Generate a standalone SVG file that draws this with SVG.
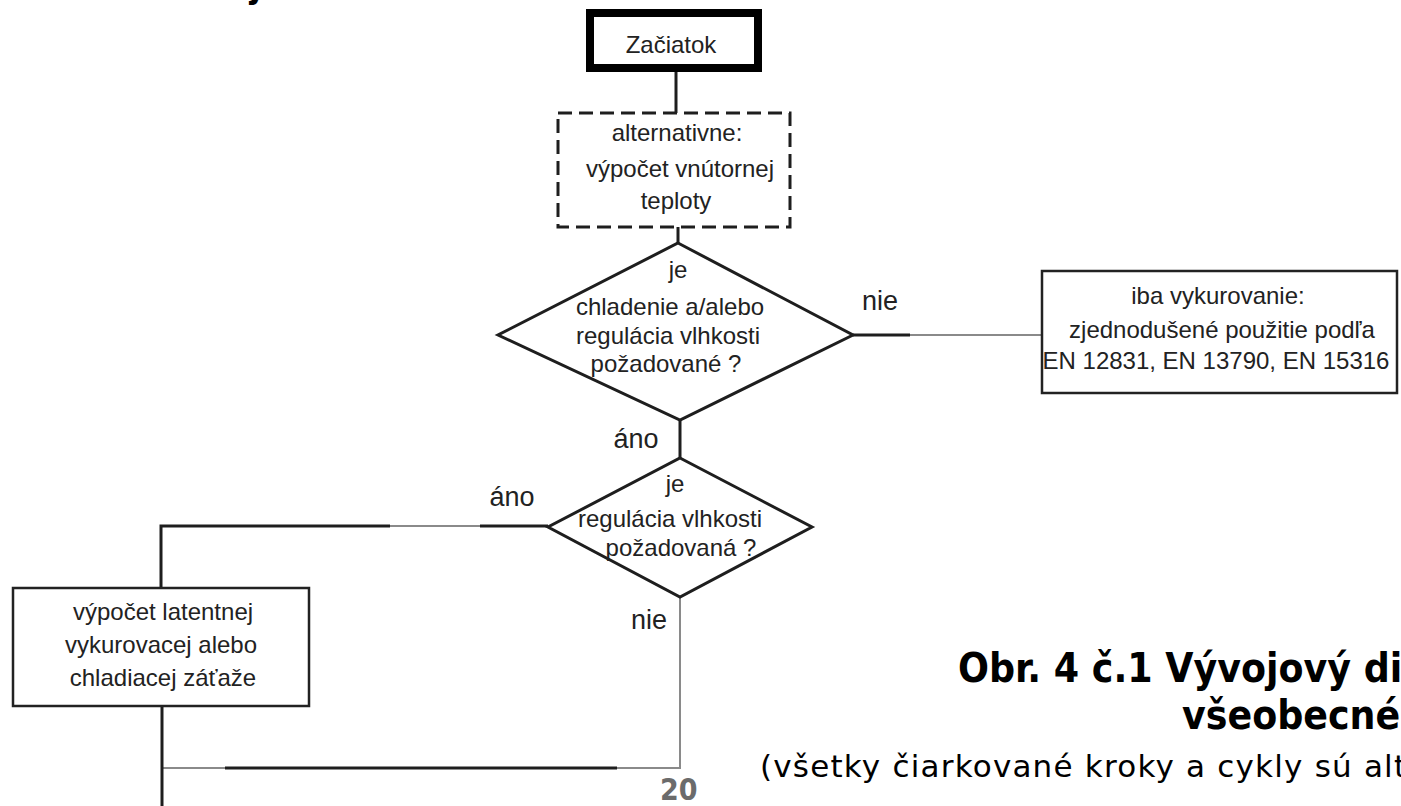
<svg xmlns="http://www.w3.org/2000/svg" width="1401" height="806" viewBox="0 0 1401 806">
<style>
.t{font-family:"Liberation Sans",Arial,sans-serif;font-size:24px;fill:#222;text-anchor:middle}
.lbl{font-family:"Liberation Sans",Arial,sans-serif;font-size:27px;fill:#222;text-anchor:middle}
.box{fill:#fff;stroke:#222;stroke-width:2.5}
.ln{fill:none;stroke:#1e1e1e;stroke-width:3}
.lg{fill:none;stroke:#8a8a8a;stroke-width:2}
.cap{font-family:"DejaVu Sans Condensed","DejaVu Sans",sans-serif;fill:#000}
.cap2{font-family:"DejaVu Sans",sans-serif;fill:#000}
</style>
<rect width="1401" height="806" fill="#fff"/>
<text x="250" y="-2" class="cap" font-size="36" font-weight="bold">j</text>
<g id="connectors">
<path class="ln" d="M676,72 V113"/>
<path class="ln" d="M678,227 V243"/>
<path class="ln" d="M853,335 H910"/>
<path class="lg" d="M910,335 H1042"/>
<path class="ln" d="M680,420 V458"/>
<path class="ln" d="M548,526 H480"/>
<path class="lg" d="M480,526 H390"/>
<path class="ln" d="M390,526 H161 V588"/>
<path class="lg" d="M680,597 V768 H617"/>
<path class="ln" d="M617,768 H225"/>
<path class="lg" d="M225,768 H162"/>
<path class="ln" d="M162,707 V806"/>
</g>
<g id="start">
<rect x="590" y="13" width="168" height="55" fill="#fff" stroke="#000" stroke-width="8"/>
<text x="671" y="53" class="t" font-size="32">Začiatok</text>
</g>
<g id="alt">
<rect x="558" y="113" width="232" height="114" fill="#fff" stroke="#1e1e1e" stroke-width="3" stroke-dasharray="14 7"/>
<text x="677" y="141" class="t">alternativne:</text>
<text x="680" y="177" class="t">výpočet vnútornej</text>
<text x="676" y="209" class="t">teploty</text>
</g>
<g id="dec1">
<polygon points="678,243 853,335 680,420 498,335" fill="#fff" stroke="#1e1e1e" stroke-width="3"/>
<text x="678" y="278" class="t">je</text>
<text x="670" y="315" class="t">chladenie a/alebo</text>
<text x="668" y="344" class="t">regulácia vlhkosti</text>
<text x="666" y="372" class="t">požadované ?</text>
</g>
<g id="heat">
<rect x="1042" y="271" width="355" height="122" class="box"/>
<text x="1218" y="304" class="t">iba vykurovanie:</text>
<text x="1222" y="338" class="t">zjednodušené použitie podľa</text>
<text x="1216" y="369" class="t" font-size="23.6">EN 12831, EN 13790, EN 15316</text>
</g>
<g id="dec2">
<polygon points="680,458 812,527 680,597 548,527" fill="#fff" stroke="#1e1e1e" stroke-width="3"/>
<text x="675" y="492" class="t">je</text>
<text x="670" y="527" class="t">regulácia vlhkosti</text>
<text x="681" y="556" class="t">požadovaná ?</text>
</g>
<g id="latent">
<rect x="13" y="588" width="296" height="118" class="box"/>
<text x="163" y="620" class="t">výpočet latentnej</text>
<text x="161" y="653" class="t">vykurovacej alebo</text>
<text x="163" y="686" class="t">chladiacej záťaže</text>
</g>
<g id="labels">
<text x="880" y="310" class="lbl">nie</text>
<text x="636" y="448" class="lbl">áno</text>
<text x="512" y="506" class="lbl">áno</text>
<text x="649" y="629" class="lbl">nie</text>
</g>
<g id="caption">
<text x="958" y="682" class="cap" font-size="40.5" font-weight="bold">Obr. 4 č.1 Vývojový di</text>
<text x="1182" y="729" class="cap" font-size="40.5" font-weight="bold">všeobecné</text>
<text x="760" y="777" class="cap2" font-size="31" letter-spacing="1.2">(všetky čiarkované kroky a cykly sú alt</text>
<text x="660" y="800" class="cap" font-size="30" font-weight="bold" style="fill:#6b6b6b">20</text>
</g>
</svg>
